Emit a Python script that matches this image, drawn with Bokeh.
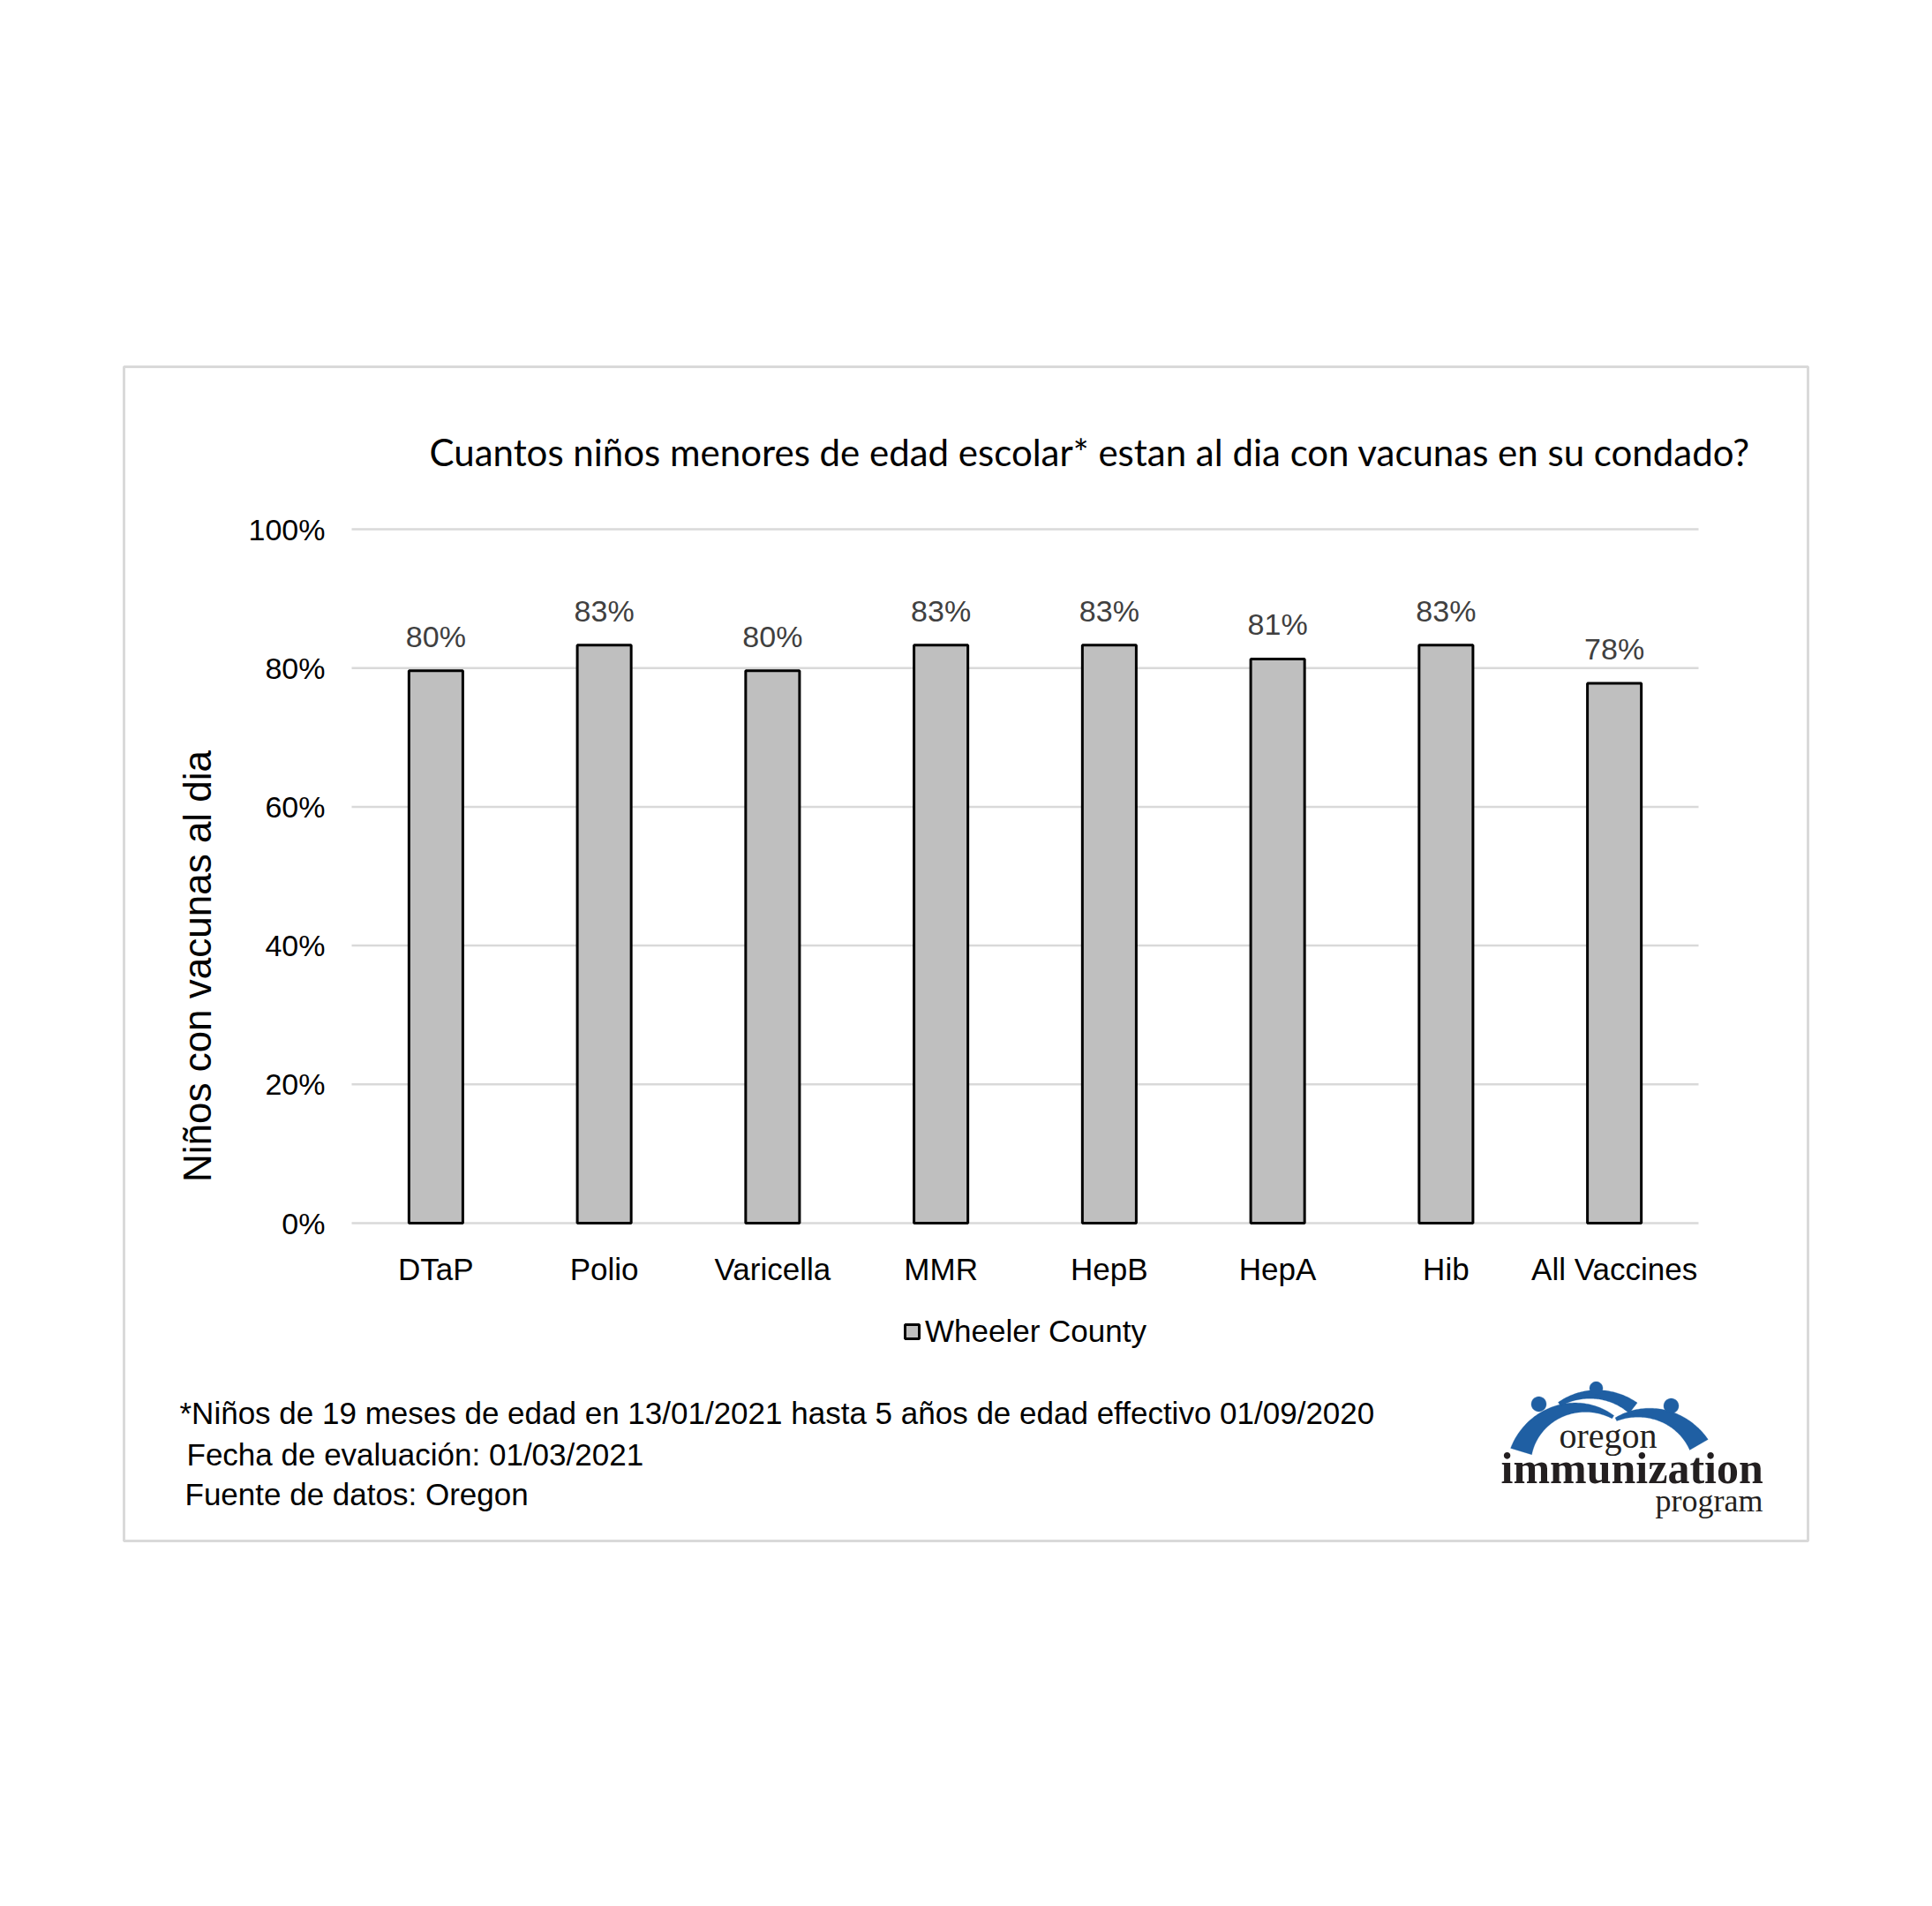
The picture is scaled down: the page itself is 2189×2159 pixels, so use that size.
import numpy as np
from bokeh.plotting import figure
from bokeh.models import (ColumnDataSource, Label, PolyAnnotation, FixedTicker,
                          NumeralTickFormatter, Range1d)
from bokeh.core.properties import value
from bokeh.embed import file_html
from bokeh.resources import INLINE

# ---------------- data ----------------
vaccines = ["DTaP", "Polio", "Varicella", "MMR", "HepB", "HepA", "Hib", "All Vaccines"]
coverage = [0.796, 0.833, 0.796, 0.833, 0.833, 0.813, 0.833, 0.778]
y_ticks = [0.0, 0.2, 0.4, 0.6, 0.8, 1.0]
series_name = "Wheeler County"
title_text = "Cuantos niños menores de edad escolar* estan al dia con vacunas en su condado?"
y_title = "Niños con vacunas al dia"
notes = ["*Niños de 19 meses de edad en  13/01/2021 hasta 5 años de edad effectivo 01/09/2020",
         "Fecha de evaluación: 01/03/2021",
         "Fuente de datos: Oregon"]
logo_words = ["oregon", "immunization", "program"]

# ---------------- layout (pixels) ----------------
W, H = 2173, 2143
BL, BT, BR, BB = 140, 415, 2048, 1745        # outer grey box = plot frame
CL, CR = 398, 1924                            # category band extent
Y0PX, Y100PX = 1385, 599                      # 0% and 100% rows
PXU = (CR - CL) / len(vaccines)
PYU = (Y0PX - Y100PX)

def dx(xpx):
    return (xpx - CL) / PXU

def dy(ypx):
    return (Y0PX - ypx) / PYU

SANS = "Liberation Sans"
BLUE = "#1f5fa3"

pos = np.arange(len(vaccines)) + 0.5
labels = [f"{int(v * 100 + 0.5)}%" for v in coverage]
src = ColumnDataSource(dict(x=pos, val=coverage, lab=labels))

p = figure(x_range=Range1d(dx(BL), dx(BR)), y_range=Range1d(dy(BB), dy(BT)),
           width=W, height=H, output_backend="svg", toolbar_location=None,
           min_border_left=BL, min_border_right=W - BR,
           min_border_top=BT, min_border_bottom=H - BB)
p.outline_line_color = "#d9d9d9"
p.outline_line_width = 3
p.background_fill_color = "white"
p.xgrid.grid_line_color = None
p.ygrid.grid_line_color = None

# horizontal gridlines through the y scale
p.segment(x0=0, x1=len(vaccines), y0=y_ticks, y1=y_ticks,
          line_color="#d9d9d9", line_width=2.5)

# axes fixed at the chart corner
p.yaxis.fixed_location = 0
p.xaxis.fixed_location = 0
p.yaxis.ticker = FixedTicker(ticks=y_ticks)
p.yaxis.formatter = NumeralTickFormatter(format="0%")
p.xaxis.ticker = FixedTicker(ticks=list(pos))
p.xaxis.major_label_overrides = {float(x): name for x, name in zip(pos, vaccines)}
for ax in (p.xaxis[0], p.yaxis[0]):
    ax.axis_line_color = None
    ax.major_tick_line_color = None
    ax.minor_tick_line_color = None
    ax.major_label_text_font = SANS
    ax.major_label_text_font_size = "34px"
    ax.major_label_text_color = "black"
p.xaxis.major_label_text_font_size = "35px"
p.yaxis.major_label_standoff = 24
p.xaxis.major_label_standoff = 26

p.vbar(x="x", top="val", width=0.32, source=src, fill_color="#bfbfbf",
       line_color="black", line_width=3, legend_label=series_name)

p.text(x="x", y="val", text="lab", source=src, text_align="center",
       text_baseline="middle", y_offset=-39, text_font=value(SANS),
       text_font_size="34px", text_color="#404040")

leg = p.legend[0]
leg.location = (1023 - BL, BB - 1528)
leg.padding = 0
leg.margin = 0
leg.spacing = 0
leg.border_line_color = None
leg.background_fill_alpha = 0
leg.glyph_width = 20
leg.glyph_height = 20
leg.label_standoff = 5
leg.label_text_font = SANS
leg.label_text_font_size = "35px"
leg.label_text_color = "black"

# title
p.add_layout(Label(x=dx(486), y=dy(511), text=title_text, text_font="Lato",
                   text_font_size="42px", text_baseline="alphabetic",
                   text_align="left", text_color="black"))

# y axis title
p.add_layout(Label(x=dx(223), y=dy(1094), text=y_title, angle=np.pi / 2,
                   text_font=SANS, text_font_size="44px", text_align="center",
                   text_baseline="middle", text_color="black"))

# notes
for txt, xr, yr in zip(notes, [203, 211, 209], [1600, 1647, 1692]):
    p.add_layout(Label(x=dx(xr), y=dy(yr), text=txt, text_font=SANS,
                       text_font_size="35px", text_align="left",
                       text_baseline="middle", text_color="black"))

# logo
def crescent(cx, cy, r, a1, a2, w1, w2, n=60):
    a = np.radians(np.linspace(a1, a2, n))
    w = np.linspace(w1, w2, n)
    px = cx + r * np.cos(a)
    py = cy - r * np.sin(a)
    nx, ny = np.cos(a), -np.sin(a)
    xs = np.concatenate([px + w / 2 * nx, (px - w / 2 * nx)[::-1]])
    ys = np.concatenate([py + w / 2 * ny, (py - w / 2 * ny)[::-1]])
    return xs, ys

def dot(cx, cy, r, n=30):
    a = np.linspace(0, 2 * np.pi, n, endpoint=False)
    return cx + r * np.cos(a), cy + r * np.sin(a)

shapes = [crescent(1790, 1664, 70, 163, 58, 25, 4),
          crescent(1805, 1652, 73, 122, 52, 5, 15),
          crescent(1862, 1672, 72, 116, 30, 4, 24),
          dot(1743, 1590, 8.5), dot(1808, 1572, 7.5), dot(1893, 1592, 8.5)]
for xs, ys in shapes:
    p.add_layout(PolyAnnotation(xs=[dx(v) for v in xs], ys=[dy(v) for v in ys],
                                fill_color=BLUE, fill_alpha=1, line_color=BLUE,
                                line_width=1))

for word, xr, yr, fs, st in zip(logo_words, [1766, 1700, 1875], [1626, 1662, 1699],
                                ["40px", "50px", "36px"], ["normal", "bold", "normal"]):
    p.add_layout(Label(x=dx(xr), y=dy(yr), text=word, text_font="Liberation Serif",
                       text_font_size=fs, text_font_style=st, text_align="left",
                       text_baseline="alphabetic", text_color="#231f20"))

open("out.html", "w").write(file_html(p, INLINE))
